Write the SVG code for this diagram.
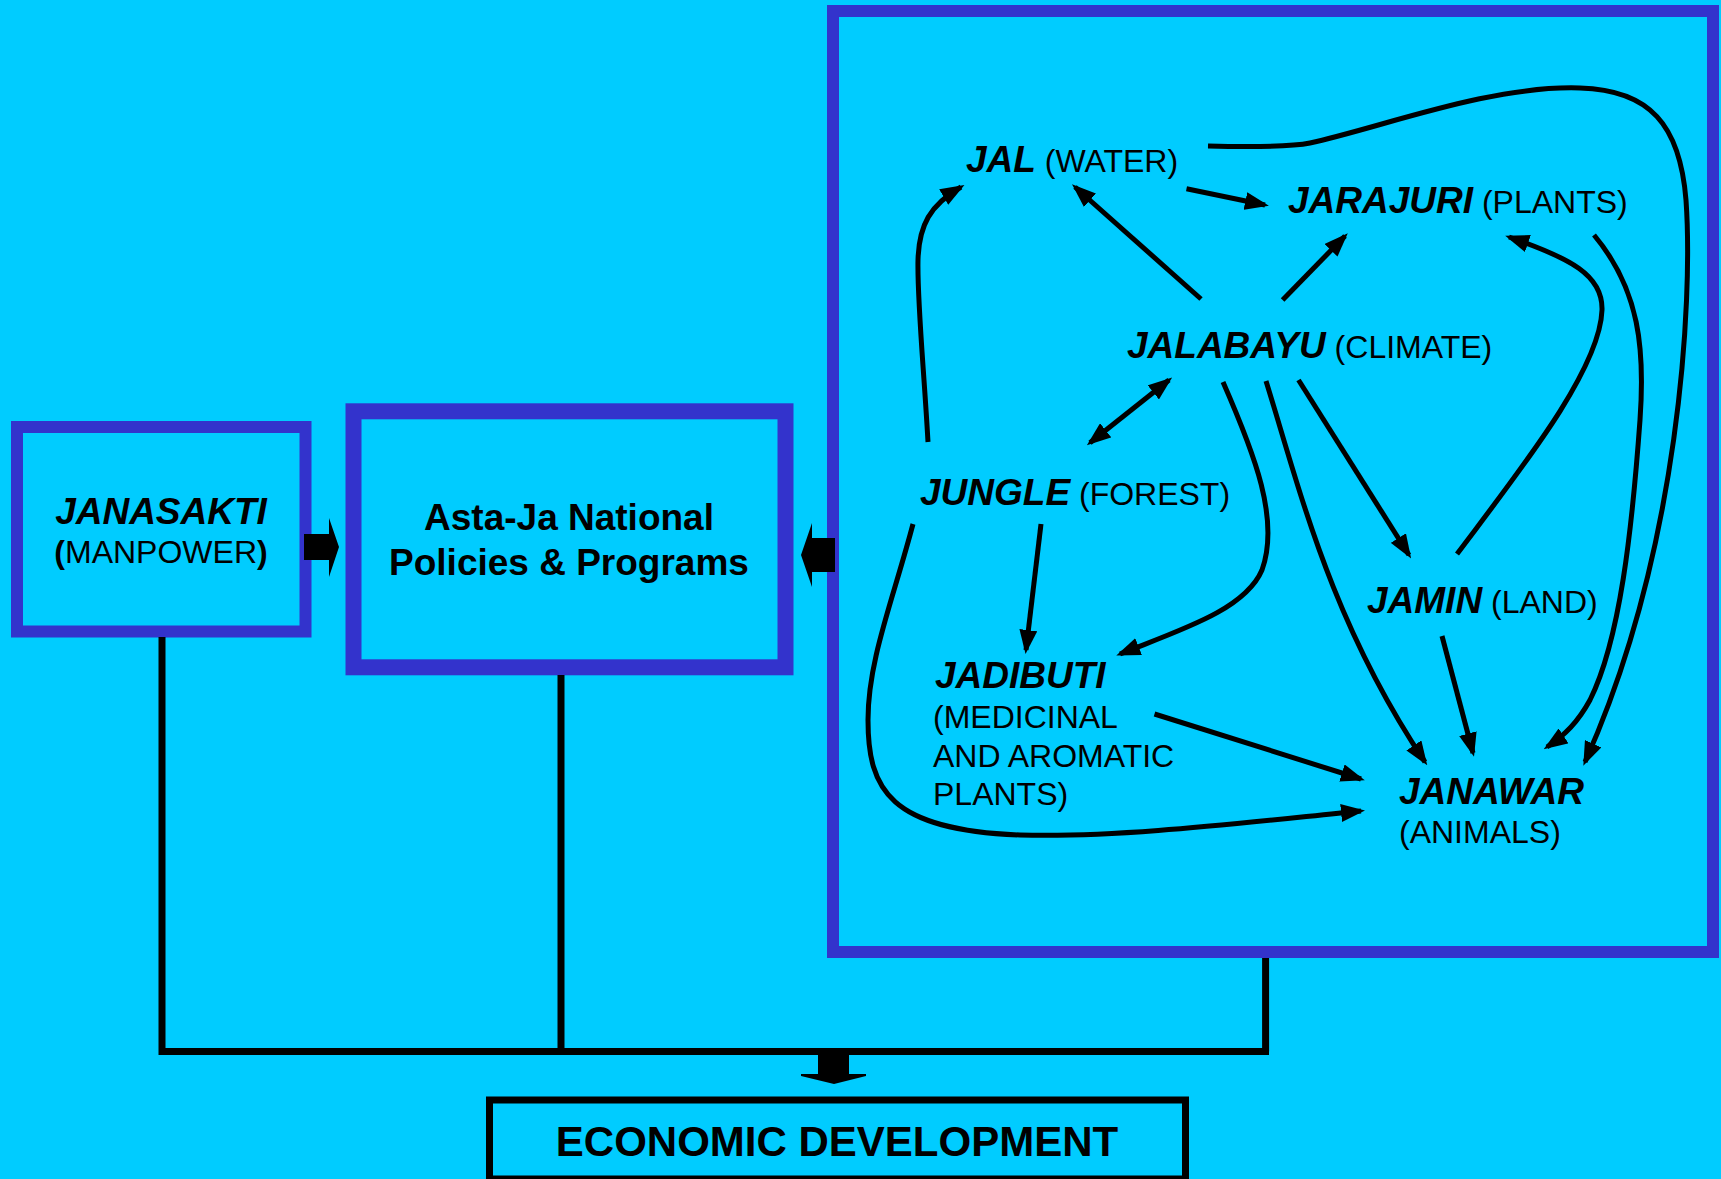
<svg xmlns="http://www.w3.org/2000/svg" width="1721" height="1179" viewBox="0 0 1721 1179">
<style>
.box{fill:none;stroke:#3333CC}
.t{font-family:"Liberation Sans",Arial,sans-serif;fill:#000}
.bi{font-weight:bold;font-style:italic;font-size:37px}
.r{font-weight:normal;font-style:normal;font-size:32px}
.b{font-weight:bold}
.c{fill:none;stroke:#000;stroke-width:5}
.ln{fill:none;stroke:#000;stroke-width:7}
.blk{fill:#000}
</style>
<defs>
<marker id="ah" markerUnits="userSpaceOnUse" markerWidth="24" markerHeight="18" viewBox="0 0 24 18" refX="20" refY="9" orient="auto-start-reverse">
<path d="M0,0 L24,9 L0,18 z" fill="#000"/>
</marker>
</defs>
<rect width="1721" height="1179" fill="#00CCFF"/>

<g id="janasakti">
<rect class="box" x="17" y="427" width="288.5" height="204.5" stroke-width="12"/>
<text class="t bi" x="161" y="524" text-anchor="middle">JANASAKTI</text>
<text class="t" x="161" y="563" text-anchor="middle" font-size="32"><tspan font-weight="bold">(</tspan>MANPOWER<tspan font-weight="bold">)</tspan></text>
</g>

<g id="astaja">
<rect class="box" x="353.5" y="411.3" width="432" height="256" stroke-width="16"/>
<text class="t b" x="569" y="530" text-anchor="middle" font-size="37">Asta-Ja National</text>
<text class="t b" x="569" y="575" text-anchor="middle" font-size="37">Policies &amp; Programs</text>
</g>

<g id="resources">
<rect class="box" x="833" y="11" width="880" height="941" stroke-width="12"/>
</g>

<g id="jal">
<text class="t bi" x="966" y="171.5">JAL<tspan class="r"> (WATER)</tspan></text>
</g>
<g id="jarajuri">
<text class="t bi" x="1288" y="213">JARAJURI<tspan class="r"> (PLANTS)</tspan></text>
</g>
<g id="jalabayu">
<text class="t bi" x="1127" y="358">JALABAYU<tspan class="r"> (CLIMATE)</tspan></text>
</g>
<g id="jungle">
<text class="t bi" x="920" y="505">JUNGLE<tspan class="r"> (FOREST)</tspan></text>
</g>
<g id="jadibuti">
<text class="t bi" x="935" y="688">JADIBUTI</text>
<text class="t r" x="933" y="728">(MEDICINAL</text>
<text class="t r" x="933" y="766.5">AND AROMATIC</text>
<text class="t r" x="933" y="805">PLANTS)</text>
</g>
<g id="jamin">
<text class="t bi" x="1367" y="613">JAMIN<tspan class="r"> (LAND)</tspan></text>
</g>
<g id="janawar">
<text class="t bi" x="1399" y="804">JANAWAR</text>
<text class="t r" x="1399" y="843">(ANIMALS)</text>
</g>

<g id="economic">
<rect x="489.5" y="1100" width="696" height="79" fill="none" stroke="#000" stroke-width="7"/>
<text class="t b" x="837" y="1156" text-anchor="middle" font-size="42">ECONOMIC DEVELOPMENT</text>
</g>

<g id="connectors">
<path class="blk" d="M304,534 L329,534 L329,518 L339,547 L329,577 L329,560 L304,560 z"/>
<path class="blk" d="M835,538 L812,538 L812,523 L801,555 L812,587 L812,572 L835,572 z"/>
<path class="ln" d="M162,637 L162,1051.4 M561,675 L561,1051.4 M1265.6,958 L1265.6,1051.4 M158.5,1051.4 L1269,1051.4"/>
<path class="blk" d="M818,1055 L849,1055 L849,1074 L866,1074 L866,1076 L834,1084 L801,1076 L801,1074 L818,1074 z"/>

<path class="c" marker-end="url(#ah)" d="M1186.5,188.8 L1265,205"/>
<path class="c" marker-end="url(#ah)" d="M1201,299 L1075,187"/>
<path class="c" marker-end="url(#ah)" d="M1282.6,300 L1345,236"/>
<path class="c" marker-start="url(#ah)" marker-end="url(#ah)" d="M1090,442.7 L1169,380"/>
<path class="c" marker-end="url(#ah)" d="M928,442 C924,370 917,300 918,260 C919,225 930,205 961,187"/>
<path class="c" marker-end="url(#ah)" d="M1208,146 C1250,147 1290,147 1310,143 C1380,128 1490,85 1580,88 C1650,90 1680,125 1686,200 C1693,300 1680,550 1585,762"/>
<path class="c" marker-end="url(#ah)" d="M1594,235 C1640,290 1645,350 1640,420 C1632,530 1620,640 1590,700 C1578,722 1565,735 1547,747"/>
<path class="c" marker-end="url(#ah)" d="M1457,554 C1520,470 1600,370 1602,310 C1603,275 1570,258 1509,237"/>
<path class="c" marker-end="url(#ah)" d="M1223,382 C1255,455 1280,520 1262,570 C1245,610 1180,630 1120,654"/>
<path class="c" marker-end="url(#ah)" d="M1266,381 C1300,490 1330,620 1425,762"/>
<path class="c" marker-end="url(#ah)" d="M1298.5,380 L1409,555"/>
<path class="c" marker-end="url(#ah)" d="M1041,524 L1026,650"/>
<path class="c" marker-end="url(#ah)" d="M913,524 C893,600 868,660 868,720 C868,790 890,830 1020,835 C1120,838 1250,822 1361,811"/>
<path class="c" marker-end="url(#ah)" d="M1154.5,714 L1361,779"/>
<path class="c" marker-end="url(#ah)" d="M1442,636 L1473,753"/>
</g>
</svg>
